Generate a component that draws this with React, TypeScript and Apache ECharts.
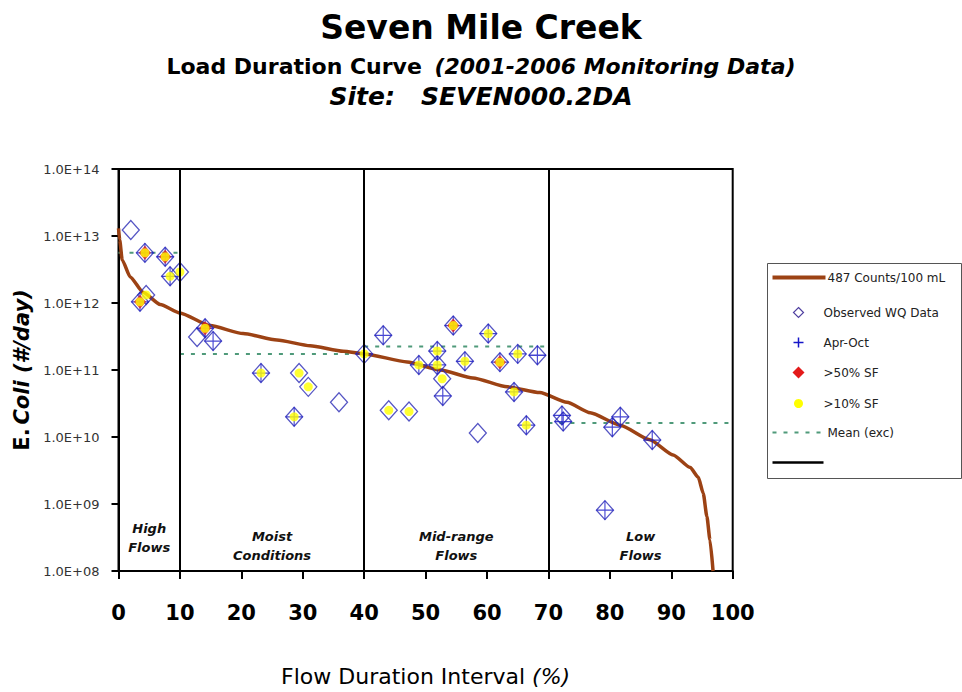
import React, { useEffect, useRef } from "react";
import * as echarts from "echarts";

const FONT = "'Comic Sans MS', 'DejaVu Sans', sans-serif";

// Load duration curve (487 counts/100 mL)
const curveX = [0, 0.2, 0.6, 1.9, 4.0, 6.8, 10.0, 14.9, 20.3, 25.8, 31.2, 36.6, 40.0, 47.0, 52.4, 57.7, 63.3, 68.6, 73.0, 76.8, 81.7, 86.5, 90.3, 93.1, 94.4, 95.2, 95.8, 96.3, 96.8];
const curveY = [1.3e13, 8.7e12, 4.4e12, 2.45e12, 1.45e12, 9.5e11, 7.1e11, 4.6e11, 3.5e11, 2.8e11, 2.3e11, 1.9e11, 1.74e11, 1.32e11, 1.0e11, 7.6e10, 5.6e10, 4.6e10, 3.3e10, 2.3e10, 1.5e10, 9.1e9, 5.4e9, 3.5e9, 2.5e9, 1.45e9, 6.5e8, 2.9e8, 1.0e8];

// Observed WQ data
const obsX = [2.0, 4.3, 7.6, 8.4, 10.0, 3.5, 4.5, 12.8, 14.1, 15.4, 23.2, 29.4, 30.9, 28.6, 35.9, 40.0, 43.1, 44.0, 47.3, 48.9, 51.9, 51.9, 52.7, 52.8, 54.5, 56.4, 60.2, 58.5, 62.1, 65.0, 64.4, 66.4, 68.2, 72.2, 72.4, 81.7, 80.4, 86.9, 79.2];
const obsY = [1.23e13, 5.6e12, 4.9e12, 2.5e12, 2.9e12, 1.04e12, 1.32e12, 3.1e11, 4.2e11, 2.7e11, 9.0e10, 9.0e10, 5.6e10, 2.0e10, 3.3e10, 1.74e11, 3.3e11, 2.5e10, 2.4e10, 1.19e11, 1.92e11, 1.19e11, 7.4e10, 4.1e10, 4.6e11, 1.35e11, 3.5e11, 1.15e10, 1.31e11, 1.74e11, 4.7e10, 1.5e10, 1.66e11, 2.1e10, 1.7e10, 2.0e10, 1.4e10, 9.0e9, 8.1e8];
// flags per observation
const aprOct = [0, 1, 1, 1, 0, 1, 0, 0, 1, 1, 1, 0, 0, 1, 0, 1, 1, 0, 0, 1, 1, 1, 0, 1, 1, 1, 1, 0, 1, 1, 1, 1, 1, 1, 1, 1, 1, 1, 1];
const sf50 = [0, 1, 1, 0, 0, 1, 0, 0, 1, 0, 0, 0, 0, 0, 0, 0, 0, 0, 0, 0, 0, 0, 0, 0, 1, 0, 0, 0, 1, 0, 0, 0, 0, 0, 0, 0, 0, 0, 0];
const sf10 = [0, 1, 1, 1, 1, 1, 1, 0, 1, 0, 1, 1, 1, 1, 0, 1, 0, 1, 1, 1, 1, 1, 1, 0, 1, 1, 1, 0, 1, 1, 1, 1, 0, 0, 0, 0, 0, 0, 0];

// Flow zones
const zoneStart = [0, 10, 40, 70];
const zoneEnd = [10, 40, 70, 100];
const zoneMean = [5.6e12, 1.74e11, 2.25e11, 1.62e10];
const zoneNames = ["High\nFlows", "Moist\nConditions", "Mid-range\nFlows", "Low\nFlows"];

const xTicks = [0, 10, 20, 30, 40, 50, 60, 70, 80, 90, 100];
const yDecades = [8, 9, 10, 11, 12, 13, 14];
const minorMultipliers = [2, 3, 4, 5, 6, 7, 8, 9];

const BROWN = "#9c4214";
const GREEN = "#4f9a7a";
const BLUE = "#2b2bb5";

export default function App() {
  const ref = useRef<HTMLDivElement>(null);
  useEffect(() => {
    const chart = echarts.init(ref.current!, null, { renderer: "svg" });
    const pts = obsX.map((x, i) => [x, obsY[i]]);
    const pick = (flags: number[]) => pts.filter((_, i) => flags[i] === 1);
    const yMin = Math.pow(10, yDecades[0]);
    const yMax = Math.pow(10, yDecades[yDecades.length - 1]);

    // inner tick marks: y major, y minor, x major
    const yMajorTicks = yDecades.map((d) => [xTicks[0], Math.pow(10, d)]);
    const yMinorTicks: number[][] = [];
    yDecades.slice(0, -1).forEach((d) => minorMultipliers.forEach((m) => yMinorTicks.push([xTicks[0], m * Math.pow(10, d)])));
    const xInnerTicks = xTicks.map((x) => [x, yMin]);

    const tickSeries = (name: string, data: number[][], path: string, size: number[], width: number, offset: number[]) => ({
      type: "scatter",
      name,
      data,
      silent: true,
      clip: false,
      symbol: path,
      symbolSize: size,
      symbolOffset: offset,
      symbolKeepAspect: false,
      itemStyle: { color: "rgba(0,0,0,0)", borderColor: "#000", borderWidth: width },
      z: 5,
    });

    const meanSeries = zoneStart.map((s, i) => ({
      type: "line",
      name: "Mean (exc)",
      data: [
        [s, zoneMean[i]],
        [zoneEnd[i], zoneMean[i]],
      ],
      showSymbol: false,
      silent: true,
      lineStyle: { color: GREEN, width: 2, type: [4, 7] },
      z: 2,
    }));

    const option: any = {
      animation: false,
      backgroundColor: "#fff",
      textStyle: { fontFamily: FONT },
      title: [
        {
          text: "Seven Mile Creek",
          left: "center",
          top: 11,
          padding: 0,
          textStyle: { fontFamily: FONT, fontSize: 33, fontWeight: "bold", color: "#000" },
        },
        {
          text: "{a|Load Duration Curve}  {b|(2001-2006 Monitoring Data)}",
          left: "center",
          top: 55,
          padding: 0,
          textStyle: {
            rich: {
              a: { fontFamily: FONT, fontSize: 22, fontWeight: "bold", color: "#000" },
              b: { fontFamily: FONT, fontSize: 22, fontWeight: "bold", fontStyle: "italic", color: "#000" },
            },
          },
        },
        {
          text: "Site:   SEVEN000.2DA",
          left: "center",
          top: 84,
          padding: 0,
          textStyle: { fontFamily: FONT, fontSize: 25, fontWeight: "bold", fontStyle: "italic", color: "#000" },
        },
      ],
      grid: {
        left: 118.5,
        right: 229.3,
        top: 169,
        bottom: 121,
        show: true,
        borderColor: "#000",
        borderWidth: 2,
        backgroundColor: "transparent",
      },
      xAxis: {
        type: "value",
        min: 0,
        max: 100,
        interval: 10,
        position: "bottom",
        axisLine: { show: true, onZero: false, lineStyle: { color: "#000", width: 2 } },
        axisTick: { show: true, inside: false, length: 8, lineStyle: { color: "#000", width: 2 } },
        axisLabel: {
          margin: 31,
          fontFamily: FONT,
          fontSize: 21,
          fontWeight: "bold",
          color: "#000",
          formatter: (v: number) => (xTicks.includes(v) ? String(v) : ""),
        },
        splitLine: { show: false },
        name: "Flow Duration Interval {i|(%)}",
        nameLocation: "middle",
        nameGap: 94,
        nameTextStyle: {
          fontFamily: FONT,
          fontSize: 22,
          color: "#000",
          rich: { i: { fontFamily: FONT, fontSize: 22, fontStyle: "italic", color: "#000" } },
        },
      },
      yAxis: {
        type: "log",
        logBase: 10,
        min: yMin,
        max: yMax,
        splitNumber: 6,
        position: "left",
        splitLine: { show: false },
        axisLine: { show: true, lineStyle: { color: "#000", width: 2 } },
        axisTick: { show: true, inside: false, length: 7, lineStyle: { color: "#000", width: 2 } },
        axisLabel: {
          margin: 19,
          fontFamily: FONT,
          fontSize: 13,
          color: "#333",
          formatter: (v: number) => "1.0E+" + String(Math.round(Math.log10(v))).padStart(2, "0"),
        },
        name: "{b|E.} {i|Coli (#/day)}",
        nameLocation: "middle",
        nameRotate: 90,
        nameGap: 82,
        nameTextStyle: {
          rich: {
            b: { fontFamily: FONT, fontSize: 21, fontWeight: "bold", color: "#000" },
            i: { fontFamily: FONT, fontSize: 21, fontWeight: "bold", fontStyle: "italic", color: "#000" },
          },
        },
      },
      series: [
        {
          type: "line",
          name: "zones",
          data: [],
          silent: true,
          markLine: {
            silent: true,
            symbol: ["none", "none"],
            label: { show: false },
            lineStyle: { color: "#000", width: 2, type: "solid" },
            data: zoneStart.slice(1).map((x) => ({ xAxis: x })),
          },
          markArea: {
            silent: true,
            itemStyle: { color: "rgba(0,0,0,0)" },
            label: {
              show: true,
              position: "insideBottom",
              fontFamily: FONT,
              fontSize: 13,
              fontWeight: "bold",
              fontStyle: "italic",
              color: "#111",
              lineHeight: 19,
              align: "center",
            },
            data: zoneStart.map((s, i) => [
              {
                xAxis: s,
                yAxis: yMin,
                name: zoneNames[i],
                label: { distance: i === 0 ? 14 : 6 },
              },
              { xAxis: zoneEnd[i], yAxis: yMin * 10 },
            ]),
          },
        },
        // inner ticks drawn as short line symbols sitting on the axes
        tickSeries("yMajorTicks", yMajorTicks, "path://M0,0L20,0", [14, 1], 2, [0, 0]),
        tickSeries("yMinorTicks", yMinorTicks, "path://M0,0L20,0", [5, 1], 1.5, [2.5, 0]),
        tickSeries("xInnerTicks", xInnerTicks, "path://M0,0L0,20", [1, 16], 2, [0, 0]),
        ...meanSeries,
        {
          type: "line",
          name: "487 Counts/100 mL",
          data: curveX.map((x, i) => [x, curveY[i]]),
          showSymbol: false,
          smooth: 0.2,
          smoothMonotone: "x",
          lineStyle: { color: BROWN, width: 3.5 },
          z: 3,
        },
        {
          type: "scatter",
          name: "Observed WQ Data",
          data: pts,
          symbol: "diamond",
          symbolSize: [17, 19],
          itemStyle: { color: "rgba(0,0,0,0)", borderColor: BLUE, borderWidth: 1.3 },
          z: 4,
        },
        {
          type: "scatter",
          name: "Apr-Oct",
          data: pick(aprOct),
          symbol: "path://M10,0L10,20M0,10L20,10",
          symbolSize: [17, 19],
          itemStyle: { color: "rgba(0,0,0,0)", borderColor: "#1616c8", borderWidth: 1.2 },
          z: 4,
        },
        {
          type: "scatter",
          name: ">50% SF",
          data: pick(sf50),
          symbol: "diamond",
          symbolSize: [12, 14],
          itemStyle: { color: "#e31a1a" },
          z: 4,
        },
        {
          type: "scatter",
          name: ">10% SF",
          data: pick(sf10),
          symbol: "circle",
          symbolSize: 9,
          itemStyle: { color: "#ffff00" },
          z: 4,
        },
      ],
      graphic: [
        {
          type: "group",
          left: 767,
          top: 263,
          children: [
            { type: "rect", shape: { x: 0, y: 0, width: 194, height: 215 }, style: { fill: "#fff", stroke: "#555", lineWidth: 1 } },
            { type: "line", shape: { x1: 5, y1: 14, x2: 58, y2: 14 }, style: { stroke: BROWN, lineWidth: 4 } },
            { type: "text", x: 60, y: 14, style: { text: "487 Counts/100 mL", font: `12px ${FONT}`, fill: "#222", verticalAlign: "middle" } },
            { type: "polygon", shape: { points: [[31, 44], [36, 49], [31, 54], [26, 49]] }, style: { fill: "none", stroke: "#5040a0", lineWidth: 1.2 } },
            { type: "text", x: 56, y: 49, style: { text: "Observed WQ Data", font: `12px ${FONT}`, fill: "#222", verticalAlign: "middle" } },
            { type: "line", shape: { x1: 26, y1: 79, x2: 36, y2: 79 }, style: { stroke: "#1616c8", lineWidth: 1.5 } },
            { type: "line", shape: { x1: 31, y1: 74, x2: 31, y2: 84 }, style: { stroke: "#1616c8", lineWidth: 1.5 } },
            { type: "text", x: 56, y: 79, style: { text: "Apr-Oct", font: `12px ${FONT}`, fill: "#222", verticalAlign: "middle" } },
            { type: "polygon", shape: { points: [[31, 103], [37, 109], [31, 115], [25, 109]] }, style: { fill: "#e31a1a" } },
            { type: "text", x: 56, y: 109, style: { text: ">50% SF", font: `12px ${FONT}`, fill: "#222", verticalAlign: "middle" } },
            { type: "circle", shape: { cx: 31, cy: 140, r: 4.5 }, style: { fill: "#ffff00" } },
            { type: "text", x: 56, y: 140, style: { text: ">10% SF", font: `12px ${FONT}`, fill: "#222", verticalAlign: "middle" } },
            { type: "line", shape: { x1: 5, y1: 169, x2: 55, y2: 169 }, style: { stroke: GREEN, lineWidth: 2, lineDash: [4, 7] } },
            { type: "text", x: 60, y: 169, style: { text: "Mean (exc)", font: `12px ${FONT}`, fill: "#222", verticalAlign: "middle" } },
            { type: "line", shape: { x1: 5, y1: 199, x2: 56, y2: 199 }, style: { stroke: "#000", lineWidth: 2.5 } },
          ],
        },
      ],
    };
    chart.setOption(option);
    return () => chart.dispose();
  }, []);
  return <div ref={ref} style={{ position: "fixed", left: 0, top: 0, width: 962, height: 692 }} />;
}
